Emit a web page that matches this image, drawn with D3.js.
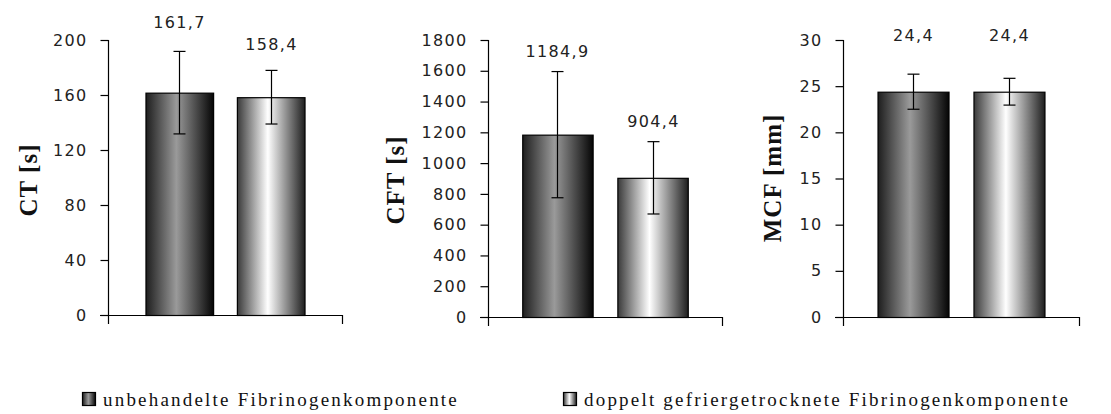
<!DOCTYPE html>
<html><head><meta charset="utf-8">
<script src="https://cdn.jsdelivr.net/npm/d3@7"></script>
<style>
html,body{margin:0;padding:0;background:#fff;}
svg{display:block;}
</style></head>
<body>
<svg id="chart" width="1111" height="414"></svg>
<script>
// ---- data ----
const seriesNames = ["unbehandelte Fibrinogenkomponente", "doppelt gefriergetrocknete Fibrinogenkomponente"];
const panelTitles = ["CT [s]", "CFT [s]", "MCF [mm]"];
const ctMeans = [161.7, 158.4];
const ctSD = [30, 19.5];
const cftMeans = [1184.9, 904.4];
const cftSD = [410, 235];
const mcfMeans = [24.4, 24.4];
const mcfSD = [1.9, 1.45];
const ctLabels = ["161,7", "158,4"];
const cftLabels = ["1184,9", "904,4"];
const mcfLabels = ["24,4", "24,4"];
const ctTicks = [0, 40, 80, 120, 160, 200];
const cftTicks = [0, 200, 400, 600, 800, 1000, 1200, 1400, 1600, 1800];
const mcfTicks = [0, 5, 10, 15, 20, 25, 30];

// ---- layout (not data) ----
const panels = [
  {title: panelTitles[0], means: ctMeans, sd: ctSD, labels: ctLabels, ticks: ctTicks, max: 200,
   ax: 108, xEnd: 342, y0: 315, yTop: 40, titleX: 28, titleY: 180, labelAt: [213, 196.5], padOuter: 0.41},
  {title: panelTitles[1], means: cftMeans, sd: cftSD, labels: cftLabels, ticks: cftTicks, max: 1800,
   ax: 488, xEnd: 722, y0: 317, yTop: 40, titleX: 395, titleY: 180, labelAt: [1723, 1268], padOuter: 0.36},
  {title: panelTitles[2], means: mcfMeans, sd: mcfSD, labels: mcfLabels, ticks: mcfTicks, max: 30,
   ax: 843, xEnd: 1079, y0: 317, yTop: 40, titleX: 772, titleY: 178, labelAt: [30.5, 30.5], padOuter: 0.36}
];

const svg = d3.select("#chart");
const defs = svg.append("defs");
function grad(id, stops) {
  const g = defs.append("linearGradient").attr("id", id).attr("x1", "0%").attr("x2", "100%").attr("y1", "0%").attr("y2", "0%");
  stops.forEach(s => g.append("stop").attr("offset", s[0]).attr("stop-color", s[1]));
}
grad("gDark", [["0%", "#1e1e1e"], ["45%", "#9a9a9a"], ["100%", "#050505"]]);
grad("gLight", [["0%", "#3a3a3a"], ["45%", "#ffffff"], ["100%", "#1e1e1e"]]);
const fills = ["url(#gDark)", "url(#gLight)"];

const tickFont = "'DejaVu Sans', Verdana, sans-serif";
const serifFont = "'Liberation Serif', 'Times New Roman', serif";

panels.forEach(p => {
  const g = svg.append("g");
  const y = d3.scaleLinear().domain([0, p.max]).range([p.y0, p.yTop]);
  const x = d3.scaleBand().domain([0, 1]).range([p.ax, p.xEnd]).paddingInner(0.26).paddingOuter(p.padOuter);

  // bars
  g.selectAll("rect.bar").data(p.means).join("rect")
    .attr("class", "bar")
    .attr("x", (d, i) => x(i) + 0.5)
    .attr("y", d => y(d) + 0.5)
    .attr("width", x.bandwidth())
    .attr("height", d => y(0) - y(d))
    .attr("fill", (d, i) => fills[i])
    .attr("stroke", "#000").attr("stroke-width", 1.2);

  // error bars
  const cap = 6;
  p.means.forEach((m, i) => {
    const cx = Math.round(x(i) + x.bandwidth() / 2) + 0.5;
    const top = y(m + p.sd[i]), bot = y(m - p.sd[i]);
    g.append("line").attr("x1", cx).attr("x2", cx).attr("y1", top).attr("y2", bot).attr("stroke", "#000").attr("stroke-width", 1.2);
    [top, bot].forEach(v => g.append("line").attr("x1", cx - cap).attr("x2", cx + cap).attr("y1", v).attr("y2", v).attr("stroke", "#000").attr("stroke-width", 1.2));
    g.append("text").attr("x", cx).attr("y", y(p.labelAt[i]))
      .attr("text-anchor", "middle").attr("dominant-baseline", "central")
      .style("font-family", tickFont).style("font-size", "16px").style("letter-spacing", "1.3px")
      .attr("fill", "#222").text(p.labels[i]);
  });

  // y axis
  const axis = d3.axisLeft(y).tickValues(p.ticks).tickSize(8).tickPadding(13).tickFormat(d3.format("d"));
  const ag = g.append("g").attr("transform", `translate(${p.ax + 0.5},0)`).call(axis);
  ag.select(".domain").remove();
  ag.selectAll(".tick line").attr("stroke", "#000").attr("stroke-width", 1.2);
  ag.selectAll(".tick text").style("font-family", tickFont).style("font-size", "16px")
    .style("letter-spacing", "1.3px").attr("fill", "#222");
  // axis lines
  g.append("line").attr("x1", p.ax + 0.5).attr("x2", p.ax + 0.5).attr("y1", p.yTop).attr("y2", p.y0 + 9).attr("stroke", "#000").attr("stroke-width", 1.2);
  g.append("line").attr("x1", p.ax - 8).attr("x2", p.xEnd + 0.5).attr("y1", p.y0 + 0.5).attr("y2", p.y0 + 0.5).attr("stroke", "#000").attr("stroke-width", 1.2);
  g.append("line").attr("x1", p.xEnd + 0.5).attr("x2", p.xEnd + 0.5).attr("y1", p.y0).attr("y2", p.y0 + 9).attr("stroke", "#000").attr("stroke-width", 1.2);

  // title
  g.append("text").attr("transform", `translate(${p.titleX},${p.titleY}) rotate(-90)`)
    .attr("text-anchor", "middle").attr("dominant-baseline", "central")
    .style("font-family", serifFont).style("font-weight", "bold").style("font-size", "25px").style("letter-spacing", "1px")
    .attr("fill", "#111").text(p.title);
});

// legend
const legendX = [82, 563];
seriesNames.forEach((name, i) => {
  const lg = svg.append("g").attr("transform", `translate(${legendX[i]},392)`);
  lg.append("rect").attr("x", 0.5).attr("y", 0.5).attr("width", 13).attr("height", 13)
    .attr("fill", fills[i]).attr("stroke", "#000").attr("stroke-width", 1.2);
  lg.append("text").attr("x", 21).attr("y", 14)
    .style("font-family", serifFont).style("font-size", "19px").style("letter-spacing", "2.2px")
    .attr("fill", "#111").text(name);
});
</script>
</body></html>
